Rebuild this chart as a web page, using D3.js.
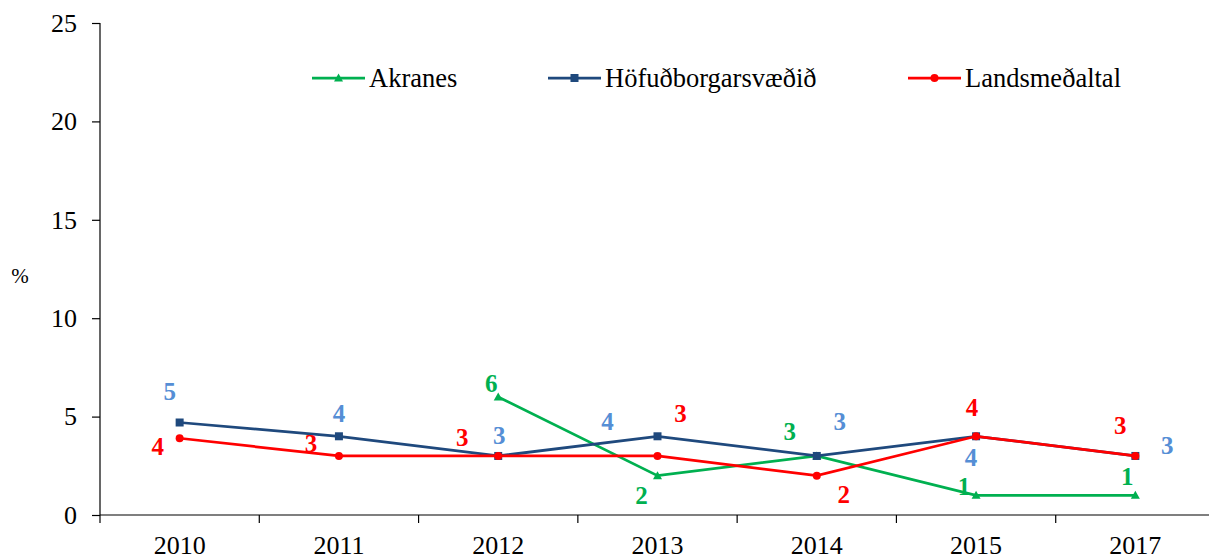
<!DOCTYPE html>
<html>
<head>
<meta charset="utf-8">
<script src="https://cdn.jsdelivr.net/npm/d3@7"></script>
<style>
  body { margin: 0; background: #fff; }
</style>
</head>
<body>
<div id="chart"></div>
<script>
// data
const years = ['2010', '2011', '2012', '2013', '2014', '2015', '2017'];
const akranes = [null, null, 6, 2, 3, 1, 1];
const hofud = [4.7, 4.0, 3, 4, 3, 4, 3];
const lands = [3.9, 3, 3, 3, 2, 4, 3];
const seriesNames = ['Akranes', 'Höfuðborgarsvæðið', 'Landsmeðaltal'];
const yTicks = [0, 5, 10, 15, 20, 25];

// hand placed label offsets (like the manual placement in the original)
const akranesLabelOff = [null, null, [-7, -14], [-16, 20], [-27, -25], [-12, -9], [-8, -19]];
const hofudLabelOff = [[-10, -31], [0, -23], [1, -21], [-50, -15], [23, -35], [-5, 21], [32, -11]];
const landsLabelOff = [[-22, 8], [-28, -13], [-36, -19], [23, -43], [27, 19], [-4, -29], [-15, -31]];

const FONT = "'Liberation Serif'";
const width = 1209, height = 559;
const margin = { top: 23, right: -6, bottom: 44, left: 100 };

const svg = d3.select('#chart')
  .append('svg')
  .attr('width', width)
  .attr('height', height)
  .style('display', 'block');

const x = d3.scaleBand()
  .domain(years)
  .range([margin.left, width - margin.right]);

const y = d3.scaleLinear()
  .domain([0, 25])
  .range([height - margin.bottom, margin.top]);

// y axis
const yAxis = svg.append('g')
  .attr('transform', `translate(${margin.left},0)`)
  .call(d3.axisLeft(y).tickValues(yTicks).tickSize(8).tickPadding(15));
yAxis.select('.domain').attr('d', `M0,${y(25)}V${y(0)}`).attr('stroke', '#000').attr('stroke-width', 1.2);
yAxis.selectAll('.tick line').attr('stroke', '#000').attr('stroke-width', 1.2);
yAxis.selectAll('.tick text')
  .attr('font-family', FONT)
  .attr('font-size', 26)
  .attr('fill', '#000');

// x axis (labels only, ticks between categories drawn below)
const xAxis = svg.append('g')
  .attr('transform', `translate(0,${y(0)})`)
  .call(d3.axisBottom(x).tickSize(0).tickPadding(21));
xAxis.select('.domain').remove();
xAxis.selectAll('.tick text')
  .attr('font-family', FONT)
  .attr('font-size', 26)
  .attr('fill', '#000');

svg.append('line')
  .attr('x1', margin.left).attr('x2', width)
  .attr('y1', y(0)).attr('y2', y(0))
  .attr('stroke', '#000').attr('stroke-width', 1.2);

svg.selectAll('.xtick')
  .data(years)
  .enter()
  .append('line')
  .attr('class', 'xtick')
  .attr('x1', d => x(d)).attr('x2', d => x(d))
  .attr('y1', y(0)).attr('y2', y(0) + 8)
  .attr('stroke', '#000').attr('stroke-width', 1.2);

// y axis title
svg.append('text')
  .attr('x', 20).attr('y', 283)
  .attr('text-anchor', 'middle')
  .attr('font-family', FONT)
  .attr('font-size', 21)
  .text('%');

const series = [
  { name: seriesNames[0], values: akranes, offs: akranesLabelOff, color: '#00B050', labelColor: '#00B050', marker: 'triangle' },
  { name: seriesNames[1], values: hofud, offs: hofudLabelOff, color: '#1F497D', labelColor: '#558ED5', marker: 'square' },
  { name: seriesNames[2], values: lands, offs: landsLabelOff, color: '#FF0000', labelColor: '#FF0000', marker: 'circle' }
];

const cx = d => x(d.year) + x.bandwidth() / 2;

function drawMarker(g, type, color) {
  if (type === 'square') {
    g.append('rect').attr('x', -4).attr('y', -4).attr('width', 8).attr('height', 8).attr('fill', color);
  } else if (type === 'circle') {
    g.append('circle').attr('r', 4).attr('fill', color);
  } else {
    g.append('path').attr('d', 'M0,-4.5L4.5,3.5L-4.5,3.5Z').attr('fill', color);
  }
}

const line = d3.line()
  .defined(d => d.value !== null)
  .x(cx)
  .y(d => y(d.value));

series.forEach(s => {
  const pts = years.map((yr, i) => ({ year: yr, value: s.values[i], off: s.offs[i] }));
  const g = svg.append('g');

  g.append('path')
    .datum(pts)
    .attr('fill', 'none')
    .attr('stroke', s.color)
    .attr('stroke-width', 2.75)
    .attr('d', line);

  g.selectAll('.mk')
    .data(pts.filter(d => d.value !== null))
    .enter()
    .append('g')
    .attr('transform', d => `translate(${cx(d)},${y(d.value)})`)
    .each(function () { drawMarker(d3.select(this), s.marker, s.color); });

  g.selectAll('.lbl')
    .data(pts.filter(d => d.value !== null))
    .enter()
    .append('text')
    .attr('x', d => cx(d) + d.off[0])
    .attr('y', d => y(d.value) + d.off[1])
    .attr('dy', '0.35em')
    .attr('text-anchor', 'middle')
    .attr('font-family', FONT)
    .attr('font-size', 25)
    .attr('font-weight', 'bold')
    .attr('fill', s.labelColor)
    .text(d => Math.round(d.value));
});

// legend
const legendX = [312, 548, 908];
const legend = svg.selectAll('.legend')
  .data(series)
  .enter()
  .append('g')
  .attr('class', 'legend')
  .attr('transform', (d, i) => `translate(${legendX[i]},78)`);

legend.append('line')
  .attr('x1', 0).attr('x2', 53)
  .attr('stroke', d => d.color)
  .attr('stroke-width', 2.75);

legend.append('g')
  .attr('transform', 'translate(26.5,0)')
  .each(function (d) { drawMarker(d3.select(this), d.marker, d.color); });

legend.append('text')
  .attr('x', 57)
  .attr('y', 0)
  .attr('dy', '0.35em')
  .attr('font-family', FONT)
  .attr('font-size', 26.5)
  .attr('fill', '#000')
  .text(d => d.name);
</script>
</body>
</html>
